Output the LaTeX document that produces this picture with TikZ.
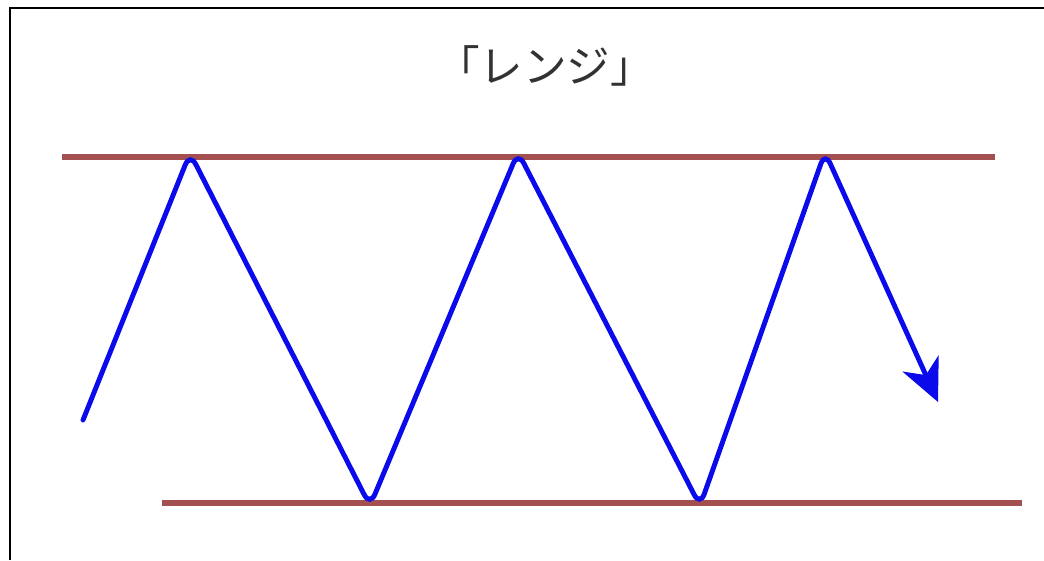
\documentclass[tikz,border=0pt]{standalone}
\usepackage{fontspec}
\newfontfamily\cjk{Noto Sans CJK JP}
\usetikzlibrary{positioning, calc, arrows.meta}
\definecolor{rangered}{RGB}{165,80,80}
\definecolor{pricblue}{RGB}{10,10,235}
\definecolor{titlegray}{RGB}{50,50,50}

\begin{document}
\begin{tikzpicture}[x=0.025cm, y=-0.025cm,
    bound/.style={rangered, line width=3.9pt},
    price/.style={pricblue, line width=3.5pt, rounded corners=9pt, line cap=round,
        -{Stealth[length=30pt, width=28pt, inset=9pt]}}]

    \useasboundingbox (0,0) rectangle (1044,560);

    % Frame (only top and left edges visible)
    \draw[line width=2pt] (10,560) -- (10,8) -- (1044,8);

    % Title
    \node[text=titlegray, font=\cjk\fontsize{31}{36}\selectfont] (title) at (545,66) {「レンジ」};

    % Range bounds
    \draw[bound] (62,157) coordinate (topL) -- (995,157) coordinate (topR);
    \draw[bound] (162,503) coordinate (botL) -- (1022,503) coordinate (botR);

    % Zigzag price path
    \coordinate (start) at (83,420);
    \coordinate (peak1) at (190,153);
    \coordinate (low1) at (370,506);
    \coordinate (peak2) at (518,152);
    \coordinate (low2) at (700,506);
    \coordinate (peak3) at (825,152);
    \coordinate (tip) at (938,402);
    \draw[price] (start) -- (peak1) -- (low1) -- (peak2) -- (low2) -- (peak3) -- (tip);

\end{tikzpicture}
\end{document}
